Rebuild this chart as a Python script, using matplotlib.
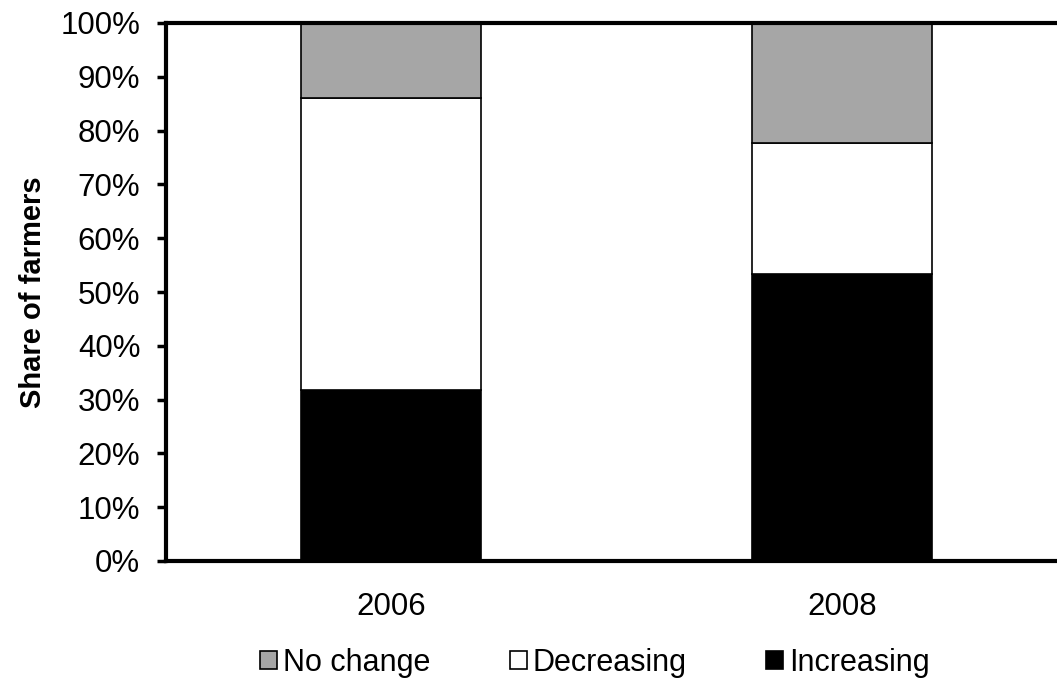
import matplotlib.pyplot as plt
import numpy as np

# Data (share of farmers, %)
years = ["2006", "2008"]
increasing = [31.8, 53.3]
decreasing = [54.3, 24.4]
no_change = [13.9, 22.3]

plt.rcParams['font.family'] = ['Liberation Sans', 'DejaVu Sans']

fig = plt.figure(figsize=(10.57, 6.9), dpi=100)
ax = fig.add_axes([166 / 1057, 1 - 561 / 690, (1057 - 166) / 1057, (561 - 23) / 690])

x = np.arange(len(years))
w = 0.40
inc = np.array(increasing)
dec = np.array(decreasing)
nch = np.array(no_change)

b1 = ax.bar(x, inc, w, color='black', edgecolor='black', linewidth=1.2, label='Increasing')
b2 = ax.bar(x, dec, w, bottom=inc, color='white', edgecolor='black', linewidth=1.2, label='Decreasing')
b3 = ax.bar(x, nch, w, bottom=inc + dec, color='#A6A6A6', edgecolor='black', linewidth=1.2, label='No change')

ax.set_ylim(0, 100)
ax.set_xlim(-0.4989, 1.4767)
ax.set_yticks(np.arange(0, 101, 10))
ax.set_yticklabels([f"{v}%" for v in range(0, 101, 10)], fontsize=22.5)
ax.set_xticks(x)
ax.set_xticklabels(years, fontsize=22.5)
ax.tick_params(axis='y', direction='out', length=6.5, width=2.5, pad=12)
ax.tick_params(axis='x', length=0, pad=22)

for s in ['left', 'bottom', 'top']:
    ax.spines[s].set_linewidth(3)
ax.spines['right'].set_visible(False)

ax.set_ylabel("Share of farmers", fontsize=21, fontweight='bold', labelpad=10)

handles = [b3, b2, b1]
leg = fig.legend(handles, ['No change', 'Decreasing', 'Increasing'],
                 loc='center', bbox_to_anchor=(595 / 1057, 1 - 663 / 690),
                 ncol=3, frameon=False, fontsize=22, handlelength=0.55, handleheight=0.55,
                 handletextpad=0.2, columnspacing=2.6)

fig.savefig("out.png", dpi=100)
